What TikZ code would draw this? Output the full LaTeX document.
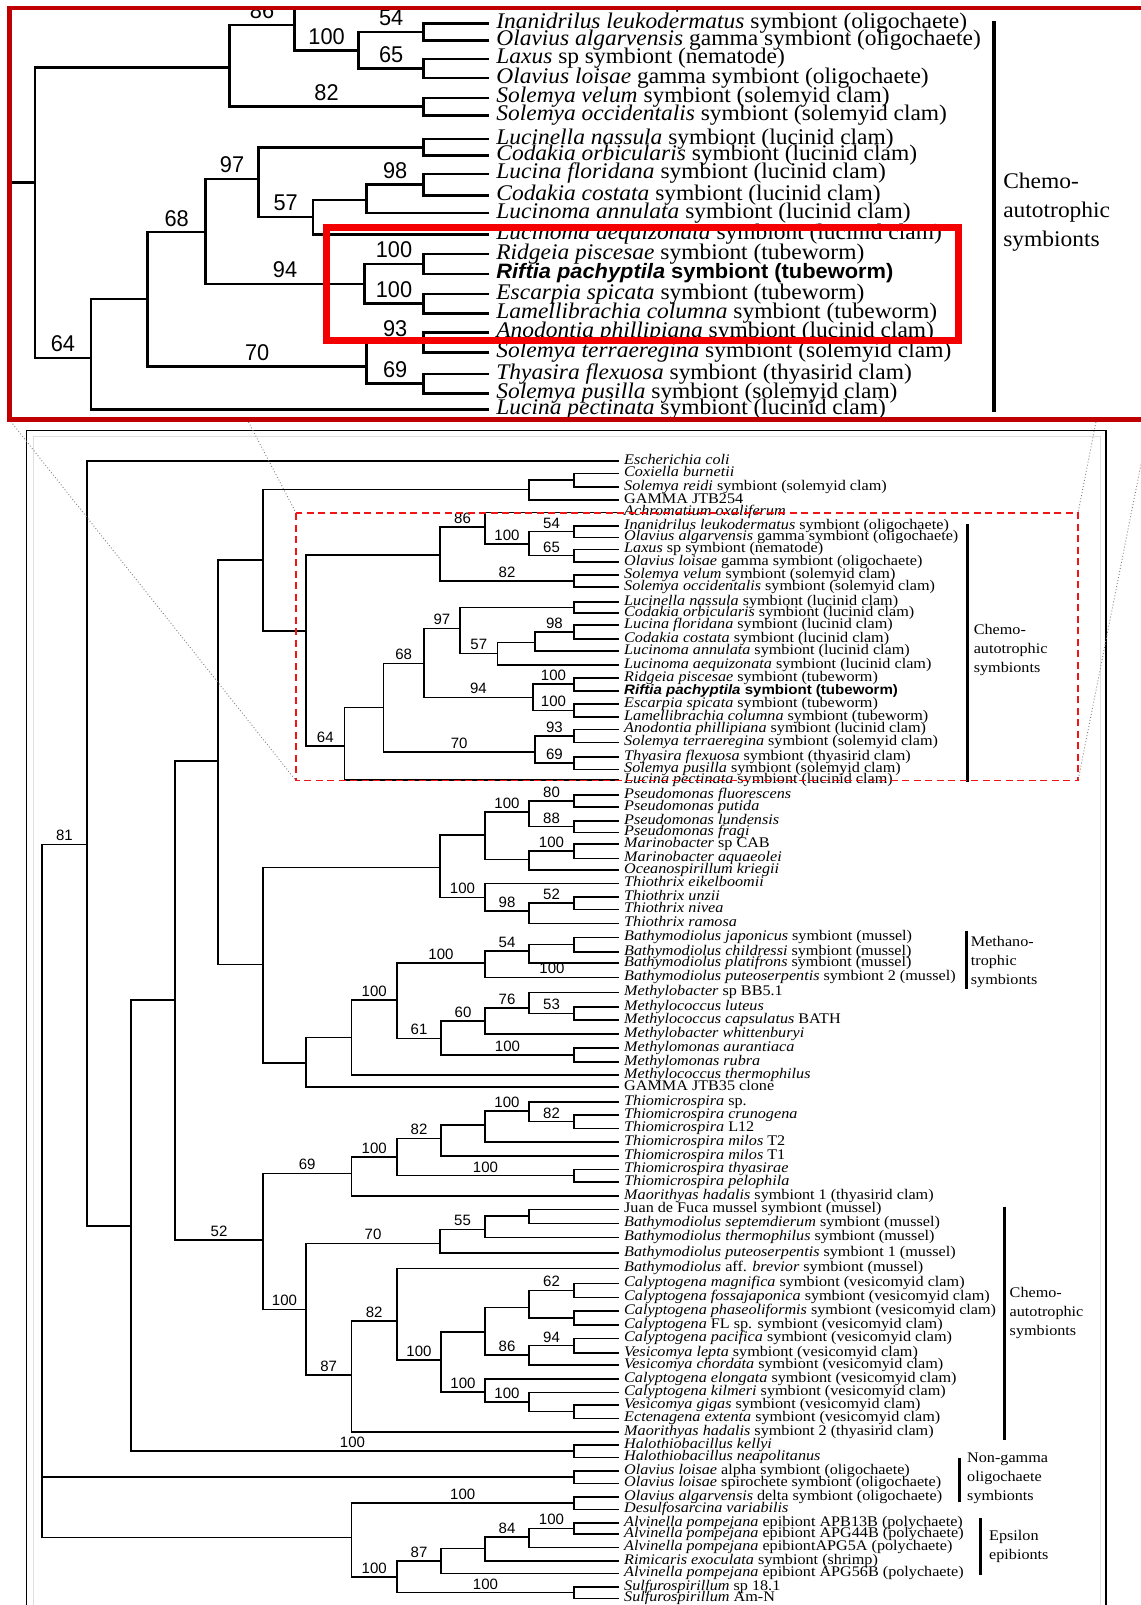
\documentclass[tikz,border=0pt]{standalone}
\usepackage{fontspec}
\setmainfont{Liberation Serif}[FakeStretch=1.1]
\setsansfont{Liberation Sans}
\newfontfamily\riftiafont{Liberation Sans}[FakeStretch=1.1]
\definecolor{insetred}{RGB}{192,0,0}
\definecolor{hlred}{RGB}{245,0,0}
\definecolor{dashred}{RGB}{240,20,20}
\tikzset{
 br/.style={draw, line width=1.6pt},
 lf/.style={anchor=west, inner xsep=5pt, inner ysep=0pt, text height=10pt, text depth=3.2pt, font=\fontsize{14.7}{14.7}\selectfont},
 bs/.style={font=\sffamily\fontsize{15}{15}\selectfont, above, inner sep=2.5pt, pos=0.75},
 brk/.style={line width=3pt},
 grp/.style={anchor=west, align=left, inner sep=0pt, font=\fontsize{14.7}{19}\selectfont},
 dotl/.style={gray, line width=0.9pt, dash pattern=on 0.9pt off 2.2pt},
}
\newcommand\leaf[3]{\node[lf] (#1) at (619,#2) {#3};}
\newcommand\tbr[2]{\draw[br] (#1) |- (#2);}
\newcommand\tbrl[3]{\draw[br] (#1) |- node[bs]{#3} (#2);}
\newcommand\twin[4]{\coordinate (#1) at (574,#2); \tbr{#1}{#3}\tbr{#1}{#4}}

\newcommand\regiontree{%
\leaf{l5}{512.3}{\textit{Achromatium oxaliferum}}
\leaf{l6}{526}{\textit{Inanidrilus leukodermatus} symbiont (oligochaete)}
\leaf{l7}{537.3}{\textit{Olavius algarvensis} gamma symbiont (oligochaete)}
\leaf{l8}{549.3}{\textit{Laxus} sp symbiont (nematode)}
\leaf{l9}{562}{\textit{Olavius loisae} gamma symbiont (oligochaete)}
\leaf{l10}{575}{\textit{Solemya velum} symbiont (solemyid clam)}
\leaf{l11}{586.7}{\textit{Solemya occidentalis} symbiont (solemyid clam)}
\leaf{l12}{602}{\textit{Lucinella nassula} symbiont (lucinid clam)}
\leaf{l13}{613}{\textit{Codakia orbicularis} symbiont (lucinid clam)}
\leaf{l14}{625}{\textit{Lucina floridana} symbiont (lucinid clam)}
\leaf{l15}{639}{\textit{Codakia costata} symbiont (lucinid clam)}
\leaf{l16}{650.7}{\textit{Lucinoma annulata} symbiont (lucinid clam)}
\leaf{l17}{665}{\textit{Lucinoma aequizonata} symbiont (lucinid clam)}
\leaf{l18}{677.7}{\textit{Ridgeia piscesae} symbiont (tubeworm)}
\node[lf, font=\riftiafont\bfseries\fontsize{13.7}{13.7}\selectfont] (l19) at (619,690.7) {\textit{Riftia pachyptila} symbiont (tubeworm)};
\leaf{l20}{704}{\textit{Escarpia spicata} symbiont (tubeworm)}
\leaf{l21}{716.7}{\textit{Lamellibrachia columna} symbiont (tubeworm)}
\leaf{l22}{729.3}{\textit{Anodontia phillipiana} symbiont (lucinid clam)}
\leaf{l23}{742.3}{\textit{Solemya terraeregina} symbiont (solemyid clam)}
\leaf{l24}{756.7}{\textit{Thyasira flexuosa} symbiont (thyasirid clam)}
\leaf{l25}{769.3}{\textit{Solemya pusilla} symbiont (solemyid clam)}
\leaf{l26}{780}{\textit{Lucina pectinata} symbiont (lucinid clam)}
\coordinate (n306a) at (306,630.7);
\coordinate (n440a) at (440,555);
\coordinate (n485a) at (485,527);
\coordinate (n529a) at (529,544);
\coordinate (n344) at (344.5,746);
\coordinate (n383) at (383.6,707.3);
\coordinate (n423) at (423.7,663.3);
\coordinate (n460) at (460,628.3);
\coordinate (n497) at (497.6,653.3);
\coordinate (n535b) at (534.7,642.3);
\coordinate (n533) at (533,697.3);
\coordinate (n535c) at (534.7,751.7);
\twin{p6}{531.65}{l6}{l7}
\twin{p8}{555.65}{l8}{l9}
\twin{p10}{580.85}{l10}{l11}
\twin{p12}{607.5}{l12}{l13}
\twin{p14}{632}{l14}{l15}
\twin{p18}{684.2}{l18}{l19}
\twin{p20}{710.35}{l20}{l21}
\twin{p22}{735.8}{l22}{l23}
\twin{p24}{763}{l24}{l25}
\tbr{n306a}{n440a}
\tbrl{n306a}{n344}{64}
\tbrl{n440a}{n485a}{86}
\tbrl{n440a}{p10}{82}
\tbr{n485a}{l5}
\tbrl{n485a}{n529a}{100}
\tbrl{n529a}{p6}{54}
\tbrl{n529a}{p8}{65}
\tbr{n344}{n383}
\tbr{n344}{l26}
\tbrl{n383}{n423}{68}
\tbrl{n383}{n535c}{70}
\tbrl{n423}{n460}{97}
\tbrl{n423}{n533}{94}
\tbr{n460}{p12}
\tbrl{n460}{n497}{57}
\tbr{n497}{n535b}
\tbr{n497}{l17}
\tbrl{n535b}{p14}{98}
\tbr{n535b}{l16}
\tbrl{n533}{p18}{100}
\tbrl{n533}{p20}{100}
\tbrl{n535c}{p22}{93}
\tbrl{n535c}{p24}{69}
\coordinate (g1a) at (967,524.3);
\coordinate (g1b) at (967,781.7);
\draw[brk] (g1a) -- (g1b);
\node[grp] (g1) at (973.6,650) {Chemo-\\autotrophic\\symbionts};
}

\begin{document}
\begin{tikzpicture}[x=1pt,y=-1pt]
\useasboundingbox (0,0) rectangle (1140,1605);
\fill[white] (0,0) rectangle (1140,1605);
% lower frame
\draw[gray!25, line width=1pt] (33,436.5) rectangle (1100,1630);
\draw[line width=1.6pt] (26.5,430.5) rectangle (1106,1630);

% ---------- lower tree ----------
\leaf{l1}{460.7}{\textit{Escherichia coli}}
\leaf{l2}{473.3}{\textit{Coxiella burnetii}}
\leaf{l3}{486.7}{\textit{Solemya reidi} symbiont (solemyid clam)}
\leaf{l4}{500}{GAMMA JTB254}
\regiontree
\leaf{l27}{795}{\textit{Pseudomonas fluorescens}}
\leaf{l28}{806.7}{\textit{Pseudomonas putida}}
\leaf{l29}{820.7}{\textit{Pseudomonas lundensis}}
\leaf{l30}{832.3}{\textit{Pseudomonas fragi}}
\leaf{l31}{844}{\textit{Marinobacter} sp CAB}
\leaf{l32}{858.3}{\textit{Marinobacter aquaeolei}}
\leaf{l33}{870}{\textit{Oceanospirillum kriegii}}
\leaf{l34}{883.3}{\textit{Thiothrix eikelboomii}}
\leaf{l35}{896.7}{\textit{Thiothrix unzii}}
\leaf{l36}{909.3}{\textit{Thiothrix nivea}}
\leaf{l37}{923.3}{\textit{Thiothrix ramosa}}
\leaf{l38}{937.3}{\textit{Bathymodiolus japonicus} symbiont (mussel)}
\leaf{l39}{951.7}{\textit{Bathymodiolus childressi} symbiont (mussel)}
\leaf{l40}{962.7}{\textit{Bathymodiolus platifrons} symbiont (mussel)}
\leaf{l41}{977.3}{\textit{Bathymodiolus puteoserpentis} symbiont 2 (mussel)}
\leaf{l42}{992.3}{\textit{Methylobacter} sp BB5.1}
\leaf{l43}{1006.7}{\textit{Methylococcus luteus}}
\leaf{l44}{1020}{\textit{Methylococcus capsulatus} BATH}
\leaf{l45}{1034}{\textit{Methylobacter whittenburyi}}
\leaf{l46}{1047.7}{\textit{Methylomonas aurantiaca}}
\leaf{l47}{1061.7}{\textit{Methylomonas rubra}}
\leaf{l48}{1075}{\textit{Methylococcus thermophilus}}
\leaf{l49}{1086.7}{GAMMA JTB35 clone}
\leaf{l50}{1101.7}{\textit{Thiomicrospira} sp.}
\leaf{l51}{1115}{\textit{Thiomicrospira crunogena}}
\leaf{l52}{1128.3}{\textit{Thiomicrospira} L12}
\leaf{l53}{1141.7}{\textit{Thiomicrospira milos} T2}
\leaf{l54}{1156}{\textit{Thiomicrospira milos} T1}
\leaf{l55}{1169.3}{\textit{Thiomicrospira thyasirae}}
\leaf{l56}{1181.7}{\textit{Thiomicrospira pelophila}}
\leaf{l57}{1196}{\textit{Maorithyas hadalis} symbiont 1 (thyasirid clam)}
\leaf{l58}{1209.3}{Juan de Fuca mussel symbiont (mussel)}
\leaf{l59}{1223.3}{\textit{Bathymodiolus septemdierum} symbiont (mussel)}
\leaf{l60}{1237.3}{\textit{Bathymodiolus thermophilus} symbiont (mussel)}
\leaf{l61}{1252.7}{\textit{Bathymodiolus puteoserpentis} symbiont 1 (mussel)}
\leaf{l62}{1268.3}{\textit{Bathymodiolus} aff. \textit{brevior} symbiont (mussel)}
\leaf{l63}{1283.3}{\textit{Calyptogena magnifica} symbiont (vesicomyid clam)}
\leaf{l64}{1297.3}{\textit{Calyptogena fossajaponica} symbiont (vesicomyid clam)}
\leaf{l65}{1310.7}{\textit{Calyptogena phaseoliformis} symbiont (vesicomyid clam)}
\leaf{l66}{1325}{\textit{Calyptogena} FL sp. symbiont (vesicomyid clam)}
\leaf{l67}{1338.3}{\textit{Calyptogena pacifica} symbiont (vesicomyid clam)}
\leaf{l68}{1352.7}{\textit{Vesicomya lepta} symbiont (vesicomyid clam)}
\leaf{l69}{1365}{\textit{Vesicomya chordata} symbiont (vesicomyid clam)}
\leaf{l70}{1379}{\textit{Calyptogena elongata} symbiont (vesicomyid clam)}
\leaf{l71}{1392.3}{\textit{Calyptogena kilmeri} symbiont (vesicomyid clam)}
\leaf{l72}{1405}{\textit{Vesicomya gigas} symbiont (vesicomyid clam)}
\leaf{l73}{1418.3}{\textit{Ectenagena extenta} symbiont (vesicomyid clam)}
\leaf{l74}{1431.7}{\textit{Maorithyas hadalis} symbiont 2 (thyasirid clam)}
\leaf{l75}{1445}{\textit{Halothiobacillus kellyi}}
\leaf{l76}{1457.3}{\textit{Halothiobacillus neapolitanus}}
\leaf{l77}{1470.7}{\textit{Olavius loisae} alpha symbiont (oligochaete)}
\leaf{l78}{1483.3}{\textit{Olavius loisae} spirochete symbiont (oligochaete)}
\leaf{l79}{1496.7}{\textit{Olavius algarvensis} delta symbiont (oligochaete)}
\leaf{l80}{1509.3}{\textit{Desulfosarcina variabilis}}
\leaf{l81}{1522.7}{\textit{Alvinella pompejana} epibiont APB13B (polychaete)}
\leaf{l82}{1534}{\textit{Alvinella pompejana} epibiont APG44B (polychaete)}
\leaf{l83}{1547.3}{\textit{Alvinella pompejana} epibiontAPG5A (polychaete)}
\leaf{l84}{1560.7}{\textit{Rimicaris exoculata} symbiont (shrimp)}
\leaf{l85}{1573.3}{\textit{Alvinella pompejana} epibiont APG56B (polychaete)}
\leaf{l86}{1586.7}{\textit{Sulfurospirillum} sp 18.1}
\leaf{l87}{1598.3}{\textit{Sulfurospirillum} Am-N}

\coordinate (root) at (41.8,844.3);
\coordinate (n87) at (87,844.3);
\coordinate (n131) at (131,1226);
\coordinate (n175) at (175,1000);
\coordinate (n218) at (218,760.7);
\coordinate (n263a) at (263,560);
\coordinate (nA) at (529,489.3);
\coordinate (n263b) at (263,964.3);
\coordinate (n440b) at (440,867.3);
\coordinate (n485b) at (485,835);
\coordinate (n529b) at (529,811.7);
\coordinate (n529c) at (529,859.3);
\coordinate (n485c) at (485,897.3);
\coordinate (n529d) at (529,911);
\coordinate (n306b) at (306,1062.7);
\coordinate (n351b) at (351.4,1037.3);
\coordinate (n397b) at (397,1000);
\coordinate (n485d) at (485,962.7);
\coordinate (n529e) at (529,950.7);
\coordinate (n441b) at (441,1038.3);
\coordinate (n485e) at (485,1020.7);
\coordinate (n529f) at (529,1007.7);
\coordinate (n263c) at (263,1240);
\coordinate (n351c) at (351.4,1173.3);
\coordinate (n397c) at (397,1156.7);
\coordinate (n441c) at (441,1138.3);
\coordinate (n485f) at (485,1125);
\coordinate (n529g) at (529,1110.7);
\coordinate (n306c) at (306,1309.3);
\coordinate (n440c) at (440,1243.3);
\coordinate (n485g) at (485,1229.3);
\coordinate (n529h) at (529,1215.7);
\coordinate (n351d) at (351.4,1375);
\coordinate (n397d) at (397,1320.7);
\coordinate (n441d) at (441,1360);
\coordinate (n485h) at (485,1331.7);
\coordinate (n529i) at (529,1307.3);
\coordinate (n529j) at (529,1355);
\coordinate (n485i) at (485,1391.7);
\coordinate (n529k) at (529,1401.7);
\coordinate (n351e) at (351.4,1537.3);
\coordinate (n397e) at (397,1576.7);
\coordinate (n441e) at (441,1560.7);
\coordinate (n485j) at (485,1548.3);
\coordinate (n529l) at (529,1536.7);

\twin{pA}{480}{l2}{l3}
\twin{p27}{800.85}{l27}{l28}
\twin{p29}{826.5}{l29}{l30}
\twin{p31}{851.15}{l31}{l32}
\twin{p35}{903}{l35}{l36}
\twin{p38}{944.5}{l38}{l39}
\twin{p43}{1013.35}{l43}{l44}
\twin{p46}{1054.7}{l46}{l47}
\twin{p51}{1121.65}{l51}{l52}
\twin{p55}{1175.5}{l55}{l56}
\twin{p63}{1290.3}{l63}{l64}
\twin{p65}{1317.85}{l65}{l66}
\twin{p67}{1345.5}{l67}{l68}
\twin{p72}{1411.65}{l72}{l73}
\twin{p75}{1451.15}{l75}{l76}
\twin{p77}{1477}{l77}{l78}
\twin{p79}{1503}{l79}{l80}
\twin{p81}{1528.35}{l81}{l82}
\twin{p86}{1592.5}{l86}{l87}

\tbrl{root}{n87}{81}
\tbr{root}{p77}
\tbr{root}{n351e}
\tbr{n87}{l1}
\tbr{n87}{n131}
\tbr{n131}{n175}
\tbrl{n131}{p75}{100}
\tbr{n175}{n218}
\tbrl{n175}{n263c}{52}
\tbr{n218}{n263a}
\tbr{n218}{n263b}
\tbr{n263a}{nA}
\tbr{n263a}{n306a}
\tbr{nA}{pA}
\tbr{nA}{l4}
\tbr{n263b}{n440b}
\tbr{n263b}{n306b}
\tbr{n440b}{n485b}
\tbrl{n440b}{n485c}{100}
\tbrl{n485b}{n529b}{100}
\tbr{n485b}{n529c}
\tbrl{n529b}{p27}{80}
\tbrl{n529b}{p29}{88}
\tbrl{n529c}{p31}{100}
\tbr{n529c}{l33}
\tbr{n485c}{l34}
\tbrl{n485c}{n529d}{98}
\tbrl{n529d}{p35}{52}
\tbr{n529d}{l37}
\tbr{n306b}{n351b}
\tbr{n306b}{l49}
\tbrl{n351b}{n397b}{100}
\tbr{n351b}{l48}
\tbrl{n397b}{n485d}{100}
\tbrl{n397b}{n441b}{61}
\tbrl{n485d}{n529e}{54}
\tbrl{n485d}{l41}{100}
\tbr{n529e}{p38}
\tbr{n529e}{l40}
\tbrl{n441b}{n485e}{60}
\tbrl{n441b}{p46}{100}
\tbrl{n485e}{n529f}{76}
\tbr{n485e}{l45}
\tbr{n529f}{l42}
\tbrl{n529f}{p43}{53}
\tbrl{n263c}{n351c}{69}
\tbrl{n263c}{n306c}{100}
\tbrl{n351c}{n397c}{100}
\tbr{n351c}{l57}
\tbrl{n397c}{n441c}{82}
\tbrl{n397c}{p55}{100}
\tbr{n441c}{n485f}
\tbr{n441c}{l54}
\tbrl{n485f}{n529g}{100}
\tbr{n485f}{l53}
\tbr{n529g}{l50}
\tbrl{n529g}{p51}{82}
\tbrl{n306c}{n440c}{70}
\tbrl{n306c}{n351d}{87}
\tbrl{n440c}{n485g}{55}
\tbr{n440c}{l61}
\tbr{n485g}{n529h}
\tbr{n485g}{l60}
\tbr{n529h}{l58}
\tbr{n529h}{l59}
\tbrl{n351d}{n397d}{82}
\tbr{n351d}{l74}
\tbr{n397d}{l62}
\tbrl{n397d}{n441d}{100}
\tbr{n441d}{n485h}
\tbrl{n441d}{n485i}{100}
\tbr{n485h}{n529i}
\tbrl{n485h}{n529j}{86}
\tbrl{n529i}{p63}{62}
\tbr{n529i}{p65}
\tbrl{n529j}{p67}{94}
\tbr{n529j}{l69}
\tbr{n485i}{l70}
\tbrl{n485i}{n529k}{100}
\tbr{n529k}{l71}
\tbr{n529k}{p72}
\tbrl{n351e}{p79}{100}
\tbrl{n351e}{n397e}{100}
\tbrl{n397e}{n441e}{87}
\tbrl{n397e}{p86}{100}
\tbr{n441e}{n485j}
\tbr{n441e}{l85}
\tbrl{n485j}{n529l}{84}
\tbr{n485j}{l84}
\tbrl{n529l}{p81}{100}
\tbr{n529l}{l83}

% group brackets
\draw[brk] (966.2,930.7) coordinate (g2a) -- (966.2,989.3) coordinate (g2b);
\node[grp] (g2) at (970.7,962) {Methano-\\trophic\\symbionts};
\draw[brk] (1004,1206.7) coordinate (g3a) -- (1004,1440) coordinate (g3b);
\node[grp] (g3) at (1009.5,1313.3) {Chemo-\\autotrophic\\symbionts};
\draw[brk] (959.5,1458.3) coordinate (g4a) -- (959.5,1501.7) coordinate (g4b);
\node[grp] (g4) at (967,1478) {Non-gamma\\oligochaete\\symbionts};
\draw[brk] (980,1518.3) coordinate (g5a) -- (980,1575) coordinate (g5b);
\node[grp] (g5) at (989,1546.7) {Epsilon\\epibionts};

% dashed zoom box and projection lines
\draw[dashred, line width=1.4pt, dash pattern=on 7pt off 4.5pt] (296,513) rectangle (1078,780.7);
\draw[dotl] (8.8,419) -- (296,780.7);
\draw[dotl] (237,400) -- (296,513);
\draw[dotl] (1098.3,410) -- (1078,513);
\draw[dotl] (1150,419) -- (1078,780.7);

% ---------- magnified inset ----------
\begin{scope}
 \fill[white] (9.5,8) rectangle (1170,419.5);
 \clip (12,10.5) rectangle (1170,417);
 \begin{scope}[xshift=-408.7pt, yshift=776.2pt, xscale=1.45, yscale=1.52, transform shape,
   name prefix=ins-, br/.style={draw, line width=2.6pt}, brk/.style={line width=4.2pt}]
  \regiontree
  \coordinate (n263a) at (263,560);
  \tbr{n263a}{n306a}
 \end{scope}
 \draw[hlred, line width=7pt] (326,228) rectangle (958,340);
\end{scope}
\draw[insetred, line width=4.5pt] (9.5,8) rectangle (1170,419.5);
\end{tikzpicture}
\end{document}
